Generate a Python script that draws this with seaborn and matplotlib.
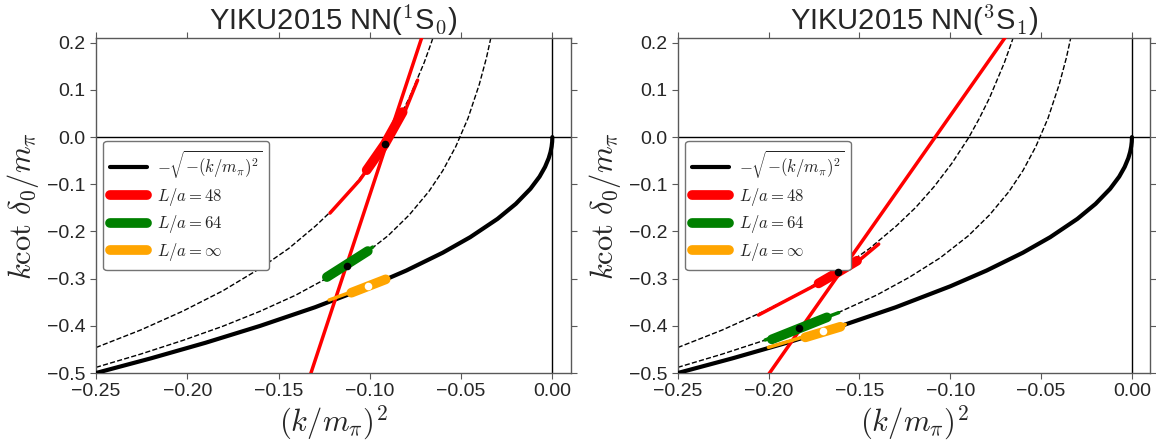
import matplotlib
matplotlib.use("Agg")
import matplotlib.pyplot as plt
import seaborn as sns

# ---------------- data ----------------
# exact bound-state curve  -sqrt(-(k/m_pi)^2)
exact_x = [-0.25, -0.22, -0.19, -0.16, -0.13, -0.10, -0.08, -0.06, -0.045, -0.03,
           -0.02, -0.012, -0.007, -0.004, -0.002, -0.001, -0.0004, -0.0001, 0.0]
exact_y = [-0.5, -0.469, -0.4359, -0.4, -0.3606, -0.3162, -0.2828, -0.2449, -0.2121,
           -0.1732, -0.1414, -0.1095, -0.0837, -0.0632, -0.0447, -0.0316, -0.02, -0.01, 0.0]

# finite volume (dashed) curves, L/a = 48 and L/a = 64
fv48_x = [-0.25, -0.2256, -0.2025, -0.1806, -0.16, -0.1444, -0.1296, -0.119, -0.1089,
          -0.0992, -0.09, -0.0841, -0.0784, -0.0702, -0.0663, -0.0625]
fv48_y = [-0.446, -0.409, -0.369, -0.326, -0.278, -0.236, -0.188, -0.149, -0.105,
          -0.056, -0.002, 0.039, 0.083, 0.158, 0.200, 0.245]
fv64_x = [-0.25, -0.2256, -0.2025, -0.1806, -0.16, -0.1406, -0.1225, -0.1056, -0.09,
          -0.0784, -0.0676, -0.06, -0.0529, -0.0462, -0.04, -0.0361, -0.0324]
fv64_y = [-0.488, -0.460, -0.431, -0.401, -0.369, -0.335, -0.297, -0.256, -0.209,
          -0.165, -0.115, -0.071, -0.020, 0.040, 0.112, 0.168, 0.233]

titles = ["YIKU2015 NN($^1$S$_0$)", "YIKU2015 NN($^3$S$_1$)"]

# steep red line (per panel)
steep_x = [[-0.1365, -0.0682], [-0.2086, -0.0627]]
steep_y = [[-0.55, 0.25], [-0.55, 0.25]]

# L/a = 48 (red)
red_thin_x = [[-0.1218, -0.1055, -0.0918, -0.0809, -0.0738],
              [-0.2056, -0.1726, -0.1511, -0.1394]]
red_thin_y = [[-0.161, -0.0911, -0.015, 0.053, 0.1208],
              [-0.3771, -0.3104, -0.2642, -0.2267]]
red_thick_x = [[-0.1017, -0.0918, -0.082], [-0.1725, -0.162, -0.1513]]
red_thick_y = [[-0.070, -0.015, 0.053], [-0.310, -0.2867, -0.262]]
red_dot_x = [-0.0918, -0.162]
red_dot_y = [-0.015, -0.2867]

# L/a = 64 (green)
green_thin_x = [[-0.1235, -0.0984], [-0.2019, -0.1614]]
green_thin_y = [[-0.2966, -0.233], [-0.430, -0.372]]
green_thick_x = [[-0.1235, -0.1011], [-0.1982, -0.1679]]
green_thick_y = [[-0.2966, -0.2415], [-0.4286, -0.382]]
green_dot_x = [-0.1126, -0.1831]
green_dot_y = [-0.2733, -0.404]

# L/a = infinity (orange)
orange_thin_x = [[-0.1223, -0.0913], [-0.2001, -0.1578]]
orange_thin_y = [[-0.3453, -0.3015], [-0.4456, -0.397]]
orange_thick_x = [[-0.1101, -0.0913], [-0.1798, -0.1605]]
orange_thick_y = [[-0.3298, -0.3015], [-0.4244, -0.402]]
orange_dot_x = [-0.101, -0.170]
orange_dot_y = [-0.3157, -0.411]

xticks = [-0.25, -0.20, -0.15, -0.10, -0.05, 0.00]
yticks = [-0.5, -0.4, -0.3, -0.2, -0.1, 0.0, 0.1, 0.2]

legend_labels = [r"$-\sqrt{-(k/m_\pi)^2}$", r"$L/a=48$", r"$L/a=64$", r"$L/a=\infty$"]

# ---------------- style ----------------
sns.set_style("ticks")
plt.rcParams.update({
    "font.family": ["Liberation Sans", "DejaVu Sans"],
    "mathtext.fontset": "cm",
    "xtick.top": True,
    "ytick.right": True,
    "xtick.direction": "out",
    "ytick.direction": "out",
    "axes.edgecolor": "0.35",
    "xtick.color": "0.35",
    "ytick.color": "0.35",
    "xtick.labelcolor": "0.15",
    "ytick.labelcolor": "0.15",
    "xtick.major.size": 4,
    "ytick.major.size": 4,
    "axes.linewidth": 1.0,
})

fig = plt.figure(figsize=(11.56, 4.47), dpi=100)
ax_pos = [[0.0830, 0.1655, 0.4106, 0.7494], [0.5863, 0.1655, 0.4086, 0.7494]]

RED, GREEN, ORANGE = "#ff0000", "#008000", "#ffa500"


def lp(ax, x, y, **kw):
    sns.lineplot(x=x, y=y, ax=ax, sort=False, estimator=None, **kw)
    return ax.lines[-1]


for i in range(2):
    ax = fig.add_axes(ax_pos[i])
    ax.axhline(0.0, color="black", lw=1.0, zorder=1)
    ax.axvline(0.0, color="black", lw=1.0, zorder=1)

    lp(ax, fv48_x, fv48_y, color="black", lw=1.0, linestyle="--", zorder=2)
    lp(ax, fv64_x, fv64_y, color="black", lw=1.0, linestyle="--", zorder=2)
    h_exact = lp(ax, exact_x, exact_y, color="black", lw=3.0, zorder=3)

    lp(ax, steep_x[i], steep_y[i], color=RED, lw=2.5, zorder=4)
    lp(ax, red_thin_x[i], red_thin_y[i], color=RED, lw=2.5, zorder=4)
    h_red = lp(ax, red_thick_x[i], red_thick_y[i], color=RED, lw=7,
               solid_capstyle="round", zorder=5)

    lp(ax, green_thin_x[i], green_thin_y[i], color=GREEN, lw=2.5, zorder=6)
    h_green = lp(ax, green_thick_x[i], green_thick_y[i], color=GREEN, lw=7,
                 solid_capstyle="round", zorder=6)

    lp(ax, orange_thin_x[i], orange_thin_y[i], color=ORANGE, lw=2.5, zorder=6)
    h_orange = lp(ax, orange_thick_x[i], orange_thick_y[i], color=ORANGE, lw=7,
                  solid_capstyle="round", zorder=6)

    sns.scatterplot(x=[red_dot_x[i]], y=[red_dot_y[i]], ax=ax, color="black",
                    s=30, linewidth=0, zorder=8)
    sns.scatterplot(x=[green_dot_x[i]], y=[green_dot_y[i]], ax=ax, color="black",
                    s=30, linewidth=0, zorder=8)
    sns.scatterplot(x=[orange_dot_x[i]], y=[orange_dot_y[i]], ax=ax, color="white",
                    s=30, linewidth=0, zorder=8)

    ax.set_xlim(-0.25, 0.01)
    ax.set_ylim(-0.5, 0.21)
    ax.set_xticks(xticks)
    ax.set_xticklabels([f"{t:.2f}".replace("-", "\u2212") for t in xticks])
    ax.set_yticks(yticks)
    ax.set_yticklabels([f"{t:.1f}".replace("-", "\u2212") for t in yticks])
    ax.tick_params(labelsize=14)
    ax.set_xlabel(r"$(k/m_\pi)^2$", fontsize=22, labelpad=2)
    ax.set_ylabel(r"$k\cot\,\delta_0/m_\pi$", fontsize=22, labelpad=4)
    ax.set_title(titles[i], fontsize=21, pad=5)

    leg = ax.legend([h_exact, h_red, h_green, h_orange], legend_labels,
                    loc="center left", fontsize=12, handlelength=2.2,
                    handletextpad=0.6, labelspacing=0.35, borderpad=0.4,
                    frameon=True, fancybox=True, framealpha=1.0,
                    edgecolor="0.45", borderaxespad=0.45)
    leg.get_frame().set_linewidth(1.0)

fig.savefig("out.png", dpi=100)
